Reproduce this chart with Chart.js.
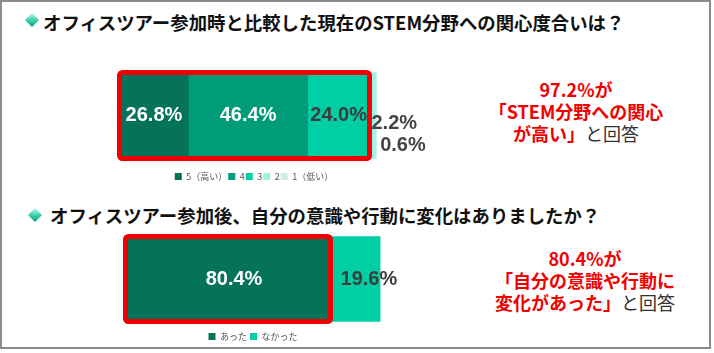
<!DOCTYPE html>
<html><head><meta charset="utf-8">
<script src="https://cdn.jsdelivr.net/npm/chart.js@4.4.1/dist/chart.umd.min.js"></script>
<style>
html,body{margin:0;padding:0;background:#fff;}
body{width:714px;height:353px;overflow:hidden;position:relative;font-family:"Noto Sans CJK JP",sans-serif;}
.frame{position:absolute;left:0;top:0;width:707px;height:345px;border:2px solid #8c8c8c;}
.title{position:absolute;font-weight:bold;font-size:18.4px;line-height:18px;color:#111;white-space:nowrap;}
.dia{position:absolute;width:10px;height:10px;transform:rotate(45deg);background:linear-gradient(135deg,#c4f7ea 0%,#3fd3ad 50%,#0b9b79 100%);}
.note{position:absolute;text-align:center;font-weight:bold;font-size:18px;line-height:22px;color:#f00000;white-space:nowrap;transform:translateX(-50%);}
.note .n{color:#333;font-weight:normal;}
canvas{position:absolute;}
</style>
</head><body>
<div class="frame"></div>
<div class="dia" style="left:27px;top:15px;"></div>
<div class="title" style="left:43px;top:13px;">オフィスツアー参加時と比較した現在のSTEM分野への関心度合いは？</div>
<div class="dia" style="left:30px;top:210px;"></div>
<div class="title" style="left:50px;top:206px;">オフィスツアー参加後、自分の意識や行動に変化はありましたか？</div>
<div class="note" style="left:576px;top:78px;">97.2%が<br>「STEM分野への関心<br>が高い」<span class="n">と回答</span></div>
<div class="note" style="left:585px;top:247px;">80.4%が<br>「自分の意識や行動に<br>変化があった」<span class="n">と回答</span></div>
<canvas id="c1" width="388" height="131" style="left:60px;top:60px;"></canvas>
<canvas id="c2" width="385" height="122" style="left:60px;top:229px;"></canvas>
<script>
// ---- data ----
const q1Categories = ['5（高い）', '4', '3', '2', '1（低い）'];
const q1Values = [26.8, 46.4, 24.0, 2.2, 0.6];
const q2Categories = ['あった', 'なかった'];
const q2Values = [80.4, 19.6];

// ---- styles ----
const q1Colors = ['#04735a', '#009b78', '#00cfa6', '#9ef2e0', '#cdf0e8'];
const q1LabelStyle = [
  {color: '#ffffff', align: 'center', dx: 0, dy: 0},
  {color: '#ffffff', align: 'center', dx: 0, dy: 0},
  {color: '#3c3c3c', align: 'center', dx: 0, dy: 0},
  {color: '#444444', align: 'left', dx: 2, dy: 8},
  {color: '#444444', align: 'left', dx: 5, dy: 30}
];
const q2Colors = ['#04735a', '#00cfa6'];
const q2LabelStyle = [
  {color: '#ffffff', align: 'center', dx: 6, dy: 0},
  {color: '#3c3c3c', align: 'left', dx: 10, dy: 0}
];

const segLabels = {
  id: 'segLabels',
  afterDatasetsDraw(chart, args, opts) {
    const ctx = chart.ctx;
    // red highlight frame
    const lastIdx = opts.highlightUpTo;
    const m0 = chart.getDatasetMeta(0).data[0];
    const m1 = chart.getDatasetMeta(lastIdx).data[0];
    const x0 = Math.min(m0.base, m0.x), x1 = m1.x;
    const y0 = m0.y - m0.height / 2, y1 = m0.y + m0.height / 2;
    ctx.save();
    ctx.strokeStyle = '#f00000';
    ctx.lineWidth = 5;
    ctx.lineJoin = 'round';
    ctx.beginPath();
    ctx.roundRect(x0, y0, x1 - x0, y1 - y0, 3);
    ctx.stroke();
    ctx.restore();
    // labels
    chart.data.datasets.forEach((ds, i) => {
      const el = chart.getDatasetMeta(i).data[0];
      const st = opts.styles[i];
      const v = ds.data[0];
      ctx.save();
      ctx.font = 'bold 20px "Liberation Sans", Arial, sans-serif';
      ctx.fillStyle = st.color;
      ctx.textBaseline = 'middle';
      let x;
      if (st.align === 'center') { ctx.textAlign = 'center'; x = (el.base + el.x) / 2 + st.dx; }
      else { ctx.textAlign = 'left'; x = el.base + st.dx; }
      ctx.fillText(v.toFixed(1) + '%', x, el.y + st.dy);
      ctx.restore();
    });
  }
};

function makeChart(id, cats, vals, colors, styles, hl, pad, thick, legendFont, legendPad, xMax) {
  return new Chart(document.getElementById(id), {
    type: 'bar',
    data: {
      labels: [''],
      datasets: cats.map((c, i) => ({
        label: c, data: [vals[i]], backgroundColor: colors[i], borderWidth: 0, barThickness: thick
      }))
    },
    options: {
      indexAxis: 'y', responsive: false, maintainAspectRatio: false, animation: false,
      layout: {padding: pad},
      scales: {
        x: {stacked: true, min: 0, max: xMax, display: false},
        y: {stacked: true, display: false}
      },
      plugins: {
        tooltip: {enabled: false},
        legend: {
          position: 'bottom',
          labels: {boxWidth: 7, boxHeight: 7, padding: legendPad, color: '#555',
            font: {size: legendFont, family: '"Noto Sans CJK JP", sans-serif'}}
        },
        segLabels: {styles: styles, highlightUpTo: hl}
      }
    },
    plugins: [segLabels]
  });
}

makeChart('c1', q1Categories, q1Values, q1Colors, q1LabelStyle, 2,
  {left: 59.5, right: 59.5, top: 0, bottom: 0}, 86, 9, 1, 104.6);
makeChart('c2', q2Categories, q2Values, q2Colors, q2LabelStyle, 0,
  {left: 65.5, right: 64.5, top: 0, bottom: 0}, 85, 9, 3, 100);
</script>
</body></html>
